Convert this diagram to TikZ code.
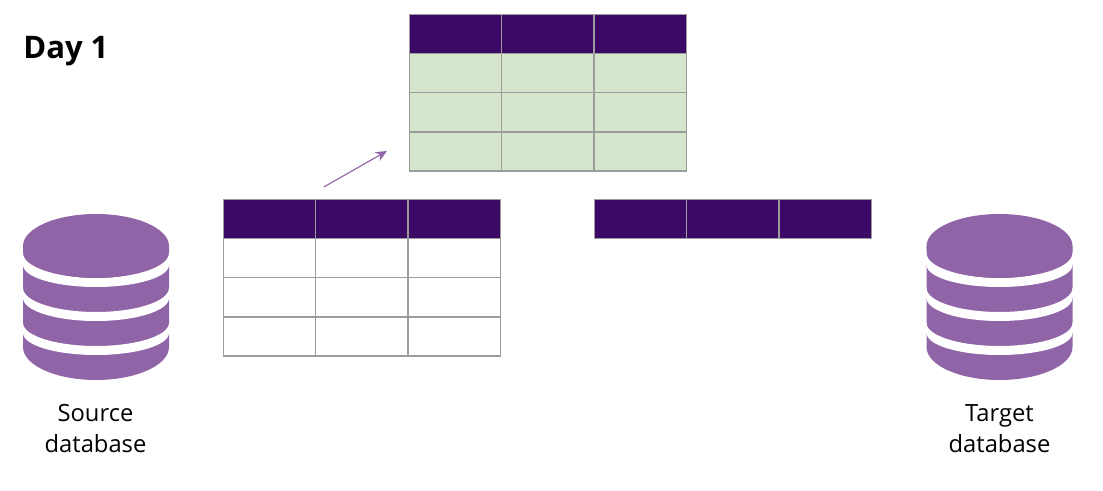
\documentclass[tikz,border=0pt]{standalone}
\usepackage{fontspec}
\setmainfont{Open Sans}
\usetikzlibrary{arrows.meta}
\definecolor{hdr}{HTML}{3C0A66}
\definecolor{dbp}{HTML}{9065A8}
\definecolor{grn}{HTML}{D5E6CD}
\definecolor{gridc}{HTML}{9C9C9C}
\tikzset{
  cellbox/.style={draw=gridc,line width=1.05pt,minimum width=69.225pt,minimum height=29.4pt,inner sep=0pt,anchor=north west,fill=#1},
  caption/.style={font=\fontsize{17.8pt}{23pt}\selectfont,align=center,text=black,inner sep=0pt},
  flow/.style={draw=dbp,line width=0.85pt,-{Stealth[length=8.5pt,width=7.5pt]}},
  pxgrid/.style={x=0.75pt,y=-0.75pt},
}
\newcommand{\tablerow}[4]{% name, x, y, fill
  \foreach \c in {0,1,2}{
    \node[cellbox=#4] (#1-\c) at ({#2+\c*92.3},{#3}) {};
  }
}
\newcommand{\dbicon}[1]{% left x
  \begin{scope}[shift={(#1,0)}]
    \fill[dbp] (0,246) -- (0,347) arc[start angle=180,end angle=0,x radius=73,y radius=33] -- (146,246) -- cycle;
    \fill[white] (-1,253) -- (0,253) arc[start angle=180,end angle=0,x radius=73,y radius=25] -- (147,253) -- (147,265) -- (146,265) arc[start angle=0,end angle=180,x radius=73,y radius=22] -- (-1,265) -- cycle;
    \fill[white] (-1,288) -- (0,288) arc[start angle=180,end angle=0,x radius=73,y radius=24] -- (147,288) -- (147,298) -- (146,298) arc[start angle=0,end angle=180,x radius=73,y radius=23] -- (-1,298) -- cycle;
    \fill[white] (-1,323) -- (0,323) arc[start angle=180,end angle=0,x radius=73,y radius=23] -- (147,323) -- (147,333) -- (146,333) arc[start angle=0,end angle=180,x radius=73,y radius=22] -- (-1,333) -- cycle;
    \fill[dbp] (73,246) ellipse[x radius=73,y radius=32];
  \end{scope}
}
\begin{document}
\begin{tikzpicture}[pxgrid]
\useasboundingbox (0,0) rectangle (1103,491);
\fill[white] (0,0) rectangle (1103,491);
% top table
\tablerow{ta}{408.6}{13.8}{hdr}
\tablerow{tb}{408.6}{52.9}{grn}
\tablerow{tc}{408.6}{92.1}{grn}
\tablerow{td}{408.6}{131.2}{grn}
% left table
\tablerow{la}{222.6}{198.8}{hdr}
\tablerow{lb}{222.6}{237.9}{white}
\tablerow{lc}{222.6}{277.1}{white}
\tablerow{ld}{222.6}{316.2}{white}
% right header
\tablerow{ra}{593.6}{198.8}{hdr}
% databases
\dbicon{23}
\dbicon{926.5}
% labels
\node[font=\fontsize{23.3pt}{28pt}\selectfont\bfseries,anchor=west,inner sep=0pt] (day) at (23,51) {Day 1};
\node[caption] (src) at (95.5,428.5) {Source\\database};
\node[caption] (tgt) at (999.5,428.5) {Target\\database};
% arrow
\coordinate (arrowstart) at (323.8,187);
\coordinate (arrowend) at (387,151);
\draw[flow] (arrowstart) -- (arrowend);
\end{tikzpicture}
\end{document}
